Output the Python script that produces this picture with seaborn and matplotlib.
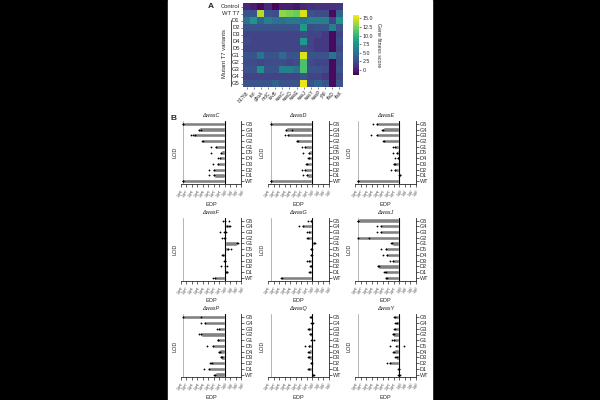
import numpy as np
import pandas as pd
import matplotlib.pyplot as plt
import seaborn as sns
from matplotlib.patches import Rectangle
from matplotlib.lines import Line2D

# ---- Panel A: gene fitness heatmap ----
hm_rows = ["Control", "WT T7", "D1", "D2", "D3", "D4", "D5", "G1", "G2", "G3", "G4", "G5"]
hm_cols = ["b1768", "tsrI", "gbuA", "nrdC", "ruvB", "wasC", "wasD", "wasE", "wasJ",
           "wasY", "wasP", "yfdI", "rfaD", "rfaK"]
hm_values = [
    [0.5, 0.0, -1.0, 0.5, -1.2, 0.0, 0.0, -0.5, 0.5, 0.8, 1.0, 1.0, 1.0, 1.2],
    [3.0, 3.0, 14.0, 3.0, 2.5, 13.0, 12.5, 12.0, 15.0, 3.0, 2.5, 2.5, -1.0, 4.0],
    [5.0, 7.5, 4.0, 6.0, 5.0, 5.0, 5.5, 5.5, 5.0, 6.0, 6.0, 6.0, 2.0, 7.5],
    [3.0, 3.0, 3.0, 3.0, 3.0, 3.0, 3.0, 3.0, 8.0, 2.5, 3.0, 3.0, 6.0, 3.0],
    [2.0, 2.0, 2.0, 2.0, 2.0, 2.0, 2.0, 2.0, 2.5, 2.0, 2.0, 1.5, -1.0, 2.0],
    [2.5, 2.0, 2.0, 2.0, 2.0, 2.0, 2.0, 2.0, 8.0, 2.0, 1.5, 1.5, -1.0, 2.5],
    [2.0, 2.0, 2.0, 2.0, 2.0, 2.0, 2.0, 2.0, 2.5, 2.0, 1.5, 1.5, -1.0, 2.0],
    [3.0, 3.0, 5.0, 3.0, 3.0, 4.5, 3.0, 3.0, 15.0, 3.0, 3.0, 3.0, 5.0, 3.0],
    [2.5, 2.5, 2.0, 2.5, 2.5, 2.5, 2.0, 2.5, 11.0, 2.5, 2.0, 2.0, -1.0, 2.5],
    [3.0, 3.0, 7.0, 3.0, 3.0, 6.0, 6.0, 5.0, 11.0, 3.0, 3.0, 2.5, -1.0, 3.0],
    [2.0, 2.0, 2.0, 2.0, 2.0, 2.0, 2.0, 2.0, 3.0, 2.0, 2.0, 1.5, -1.0, 2.0],
    [3.0, 3.0, 3.0, 3.0, 4.0, 3.0, 3.0, 3.0, 15.5, 3.0, 4.0, 3.0, -1.0, 3.0],
]
cbar_ticks = [0, 2.5, 5, 7.5, 10, 12.5, 15]
cbar_ticklabels = ["0", "2.5", "5.0", "7.5", "10.0", "12.5", "15.0"]

# ---- Panel B: log10 EOP replicates (top to bottom) ----
variants = ["G5", "G4", "G3", "G2", "G1", "D5", "D4", "D3", "D2", "D1", "WT"]
lod = -7.5
wasC = [[-7.5, -7.5, -7.5], [-4.3, -4.6, -4.6], [-6.2, -5.4, -5.7], [-4.0, -3.9, -4.1],
        [-2.5, -1.6, -1.6], [-2.5, -0.7, -0.7], [-1.2, -0.9, -0.9], [-2.2, -1.3, -1.3],
        [-2.8, -1.9, -1.9], [-2.8, -1.9, -1.9], [-7.5, -7.5, -7.5]]
wasD = [[-7.5, -7.5, -7.5], [-3.7, -4.8, -4.8], [-5.0, -4.4, -4.4], [-2.7, -2.6, -2.8],
        [-1.8, -1.2, -1.2], [-1.6, -0.6, -0.6], [-0.8, -0.5, -0.5], [-1.0, -1.1, -0.9],
        [-1.9, -1.2, -1.2], [-1.7, -1.0, -1.0], [-7.5, -7.5, -7.5]]
wasE = [[-4.7, -4.0, -4.0], [-3.2, -2.9, -2.9], [-5.2, -4.0, -4.0], [-2.8, -2.7, -2.9],
        [-1.2, -0.7, -0.7], [-1.2, -0.5, -0.5], [-0.8, -0.3, -0.3], [-0.9, -1.0, -0.8],
        [-1.5, -0.8, -0.8], [0.1, 0.0, 0.1], [-7.5, -7.5, -7.5]]
wasF = [[-0.4, 0.8, 0.1], [0.4, 0.9, 0.7], [-0.8, 0.2, -0.1], [-0.5, 0.0, -0.1],
        [2.5, 2.3, 2.3], [1.1, 0.6, 0.6], [-0.4, -0.3, -0.5], [0.0, -0.1, 0.1],
        [-0.7, 0.5, 0.0], [0.4, 0.3, 0.5], [-2.1, -1.7, -1.7]]
wasG = [[-0.8, -0.2, -0.2], [-2.3, -1.7, -1.7], [-0.9, -0.5, -0.5], [-1.0, -0.7, -0.7],
        [0.4, 0.3, 0.5], [0.0, -0.1, -0.1], [-0.1, 0.0, -0.1], [-0.9, -0.5, -0.5],
        [-0.2, -0.3, -0.1], [-0.3, -0.5, -0.4], [-5.5, -5.5, -5.6]]
wasJ = [[-7.5, -7.5, -7.5], [-4.0, -3.4, -3.4], [-4.0, -3.4, -3.4], [-5.5, -7.5, -7.5],
        [-1.4, -1.3, -1.5], [-3.4, -2.5, -2.5], [-3.0, -2.3, -2.3], [-1.7, -1.1, -1.1],
        [-3.8, -3.7, -3.9], [-2.6, -2.5, -2.7], [-2.4, -2.3, -2.5]]
wasP = [[-4.4, -7.5, -7.5], [-4.3, -3.6, -3.6], [-1.4, -1.0, -1.0], [-4.7, -4.3, -4.3],
        [-1.3, -1.3, -1.2], [-3.3, -2.2, -2.2], [-1.0, -1.1, -0.9], [-0.6, -0.7, -0.5],
        [-2.5, -2.6, -2.4], [-3.7, -2.8, -2.8], [-1.8, -1.7, -1.9]]
wasQ = [[-0.4, -0.2, -0.2], [0.0, -0.1, 0.1], [-0.7, -0.6, -0.5], [-0.3, -0.2, -0.4],
        [0.4, -0.1, 0.0], [-1.2, -0.6, -0.6], [-0.6, -0.7, -0.5], [-0.6, -0.7, -0.5],
        [-0.1, 0.0, -0.2], [-0.6, -0.7, -0.5], [0.4, 0.2, 0.2]]
wasY = [[-0.8, -0.9, -0.7], [-0.6, -0.7, -0.5], [-0.9, -0.8, -0.8], [-1.1, -1.2, -1.0],
        [-1.4, -1.0, -1.0], [-1.7, 0.9, -0.6], [-1.0, -1.1, -0.9], [-0.6, -0.7, -0.5],
        [-2.2, -1.7, -1.7], [-0.1, -0.2, 0.0], [-0.3, 0.1, 0.0]]
genes = ["wasC", "wasD", "wasE", "wasF", "wasG", "wasJ", "wasP", "wasQ", "wasY"]
panel_data = [wasC, wasD, wasE, wasF, wasG, wasJ, wasP, wasQ, wasY]
xtick_exps = list(range(-8, 4))

sns.set_theme(style="ticks")
plt.rcParams["font.family"] = ["Liberation Sans", "DejaVu Sans"]
plt.rcParams["mathtext.default"] = "regular"

W, H = 600, 400
fig = plt.figure(figsize=(6, 4), dpi=100, facecolor="black")
fig.patches.append(Rectangle((168 / W, 0), 264 / W, 1, transform=fig.transFigure,
                             color="white", zorder=-10))

# heatmap
hm_df = pd.DataFrame(hm_values, index=hm_rows, columns=hm_cols)
ax_hm = fig.add_axes([243 / W, 1 - 87 / H, 100 / W, 84 / H])
cax = fig.add_axes([353 / W, 1 - 75 / H, 6 / W, 60 / H])
sns.heatmap(hm_df, ax=ax_hm, cbar_ax=cax, cmap="viridis", vmin=-1.5, vmax=16,
            xticklabels=True, yticklabels=True)
ax_hm.tick_params(axis="y", labelsize=4.2, length=1.5, width=0.4, pad=1)
ax_hm.tick_params(axis="x", labelsize=3.4, length=1.5, width=0.4, pad=1)
ax_hm.set_yticklabels(hm_rows, rotation=0)
ax_hm.set_xticklabels(hm_cols, rotation=45, ha="right", rotation_mode="anchor")
cax.set_yticks(cbar_ticks)
cax.set_yticklabels(cbar_ticklabels)
cax.tick_params(labelsize=3.8, length=1.5, width=0.4, pad=1)
cax.set_ylabel("Gene fitness score", rotation=270, fontsize=3.8, labelpad=6)
fig.text(225 / W, 1 - 53 / H, "Mutant T7 variants", rotation=90, fontsize=4.2,
         ha="center", va="center")
fig.add_artist(Line2D([231.5 / W, 231.5 / W], [1 - 20 / H, 1 - 86 / H],
                      transform=fig.transFigure, color="black", lw=0.5))
fig.text(208 / W, 1 - 7 / H, "A", fontsize=6, fontweight="bold", va="center")
fig.text(171 / W, 1 - 118 / H, "B", fontsize=6, fontweight="bold", va="center")

# EOP bar panels
for i, (gene, reps) in enumerate(zip(genes, panel_data)):
    r, c = divmod(i, 3)
    left = (180.7 + c * 87.3) / W
    bottom = 1 - (184 + r * 96.7) / H
    ax = fig.add_axes([left, bottom, 60.5 / W, 63 / H])
    ax.set_facecolor("none")
    rows = []
    for v, vals in zip(variants, reps):
        for val in vals:
            rows.append({"variant": v, "log_eop": val})
    df = pd.DataFrame(rows)
    sns.barplot(data=df, x="log_eop", y="variant", order=variants, orient="h",
                estimator="median", errorbar=None, color="#828282", saturation=1,
                width=0.75, ax=ax)
    sns.stripplot(data=df, x="log_eop", y="variant", order=variants, orient="h",
                  color="black", size=1.3, jitter=0, ax=ax)
    ax.set_xlim(-8, 3)
    ax.axvline(0, color="black", lw=0.8)
    ax.axvline(lod, color="#b5b5b5", lw=0.7)
    for s in ["top", "left"]:
        ax.spines[s].set_visible(False)
    for s in ["right", "bottom"]:
        ax.spines[s].set_linewidth(0.6)
    ax.yaxis.tick_right()
    ax.set_ylabel("")
    ax.tick_params(axis="y", labelsize=4, length=2, width=0.5, pad=1)
    ax.set_xticks(xtick_exps)
    ax.set_xticklabels([r"$10^{%d}$" % e for e in xtick_exps], rotation=45,
                       ha="right", rotation_mode="anchor")
    ax.tick_params(axis="x", labelsize=2.6, length=2, width=0.5, pad=1)
    ax.set_xlabel("EOP", fontsize=4, labelpad=0.5)
    ax.set_title("\u0394" + gene, fontsize=4, fontstyle="italic", pad=3)
    ax.text(-9.1, 5, "LOD", rotation=90, ha="center", va="center", fontsize=4,
            clip_on=False)

fig.savefig("out.png", dpi=100, facecolor=fig.get_facecolor())
